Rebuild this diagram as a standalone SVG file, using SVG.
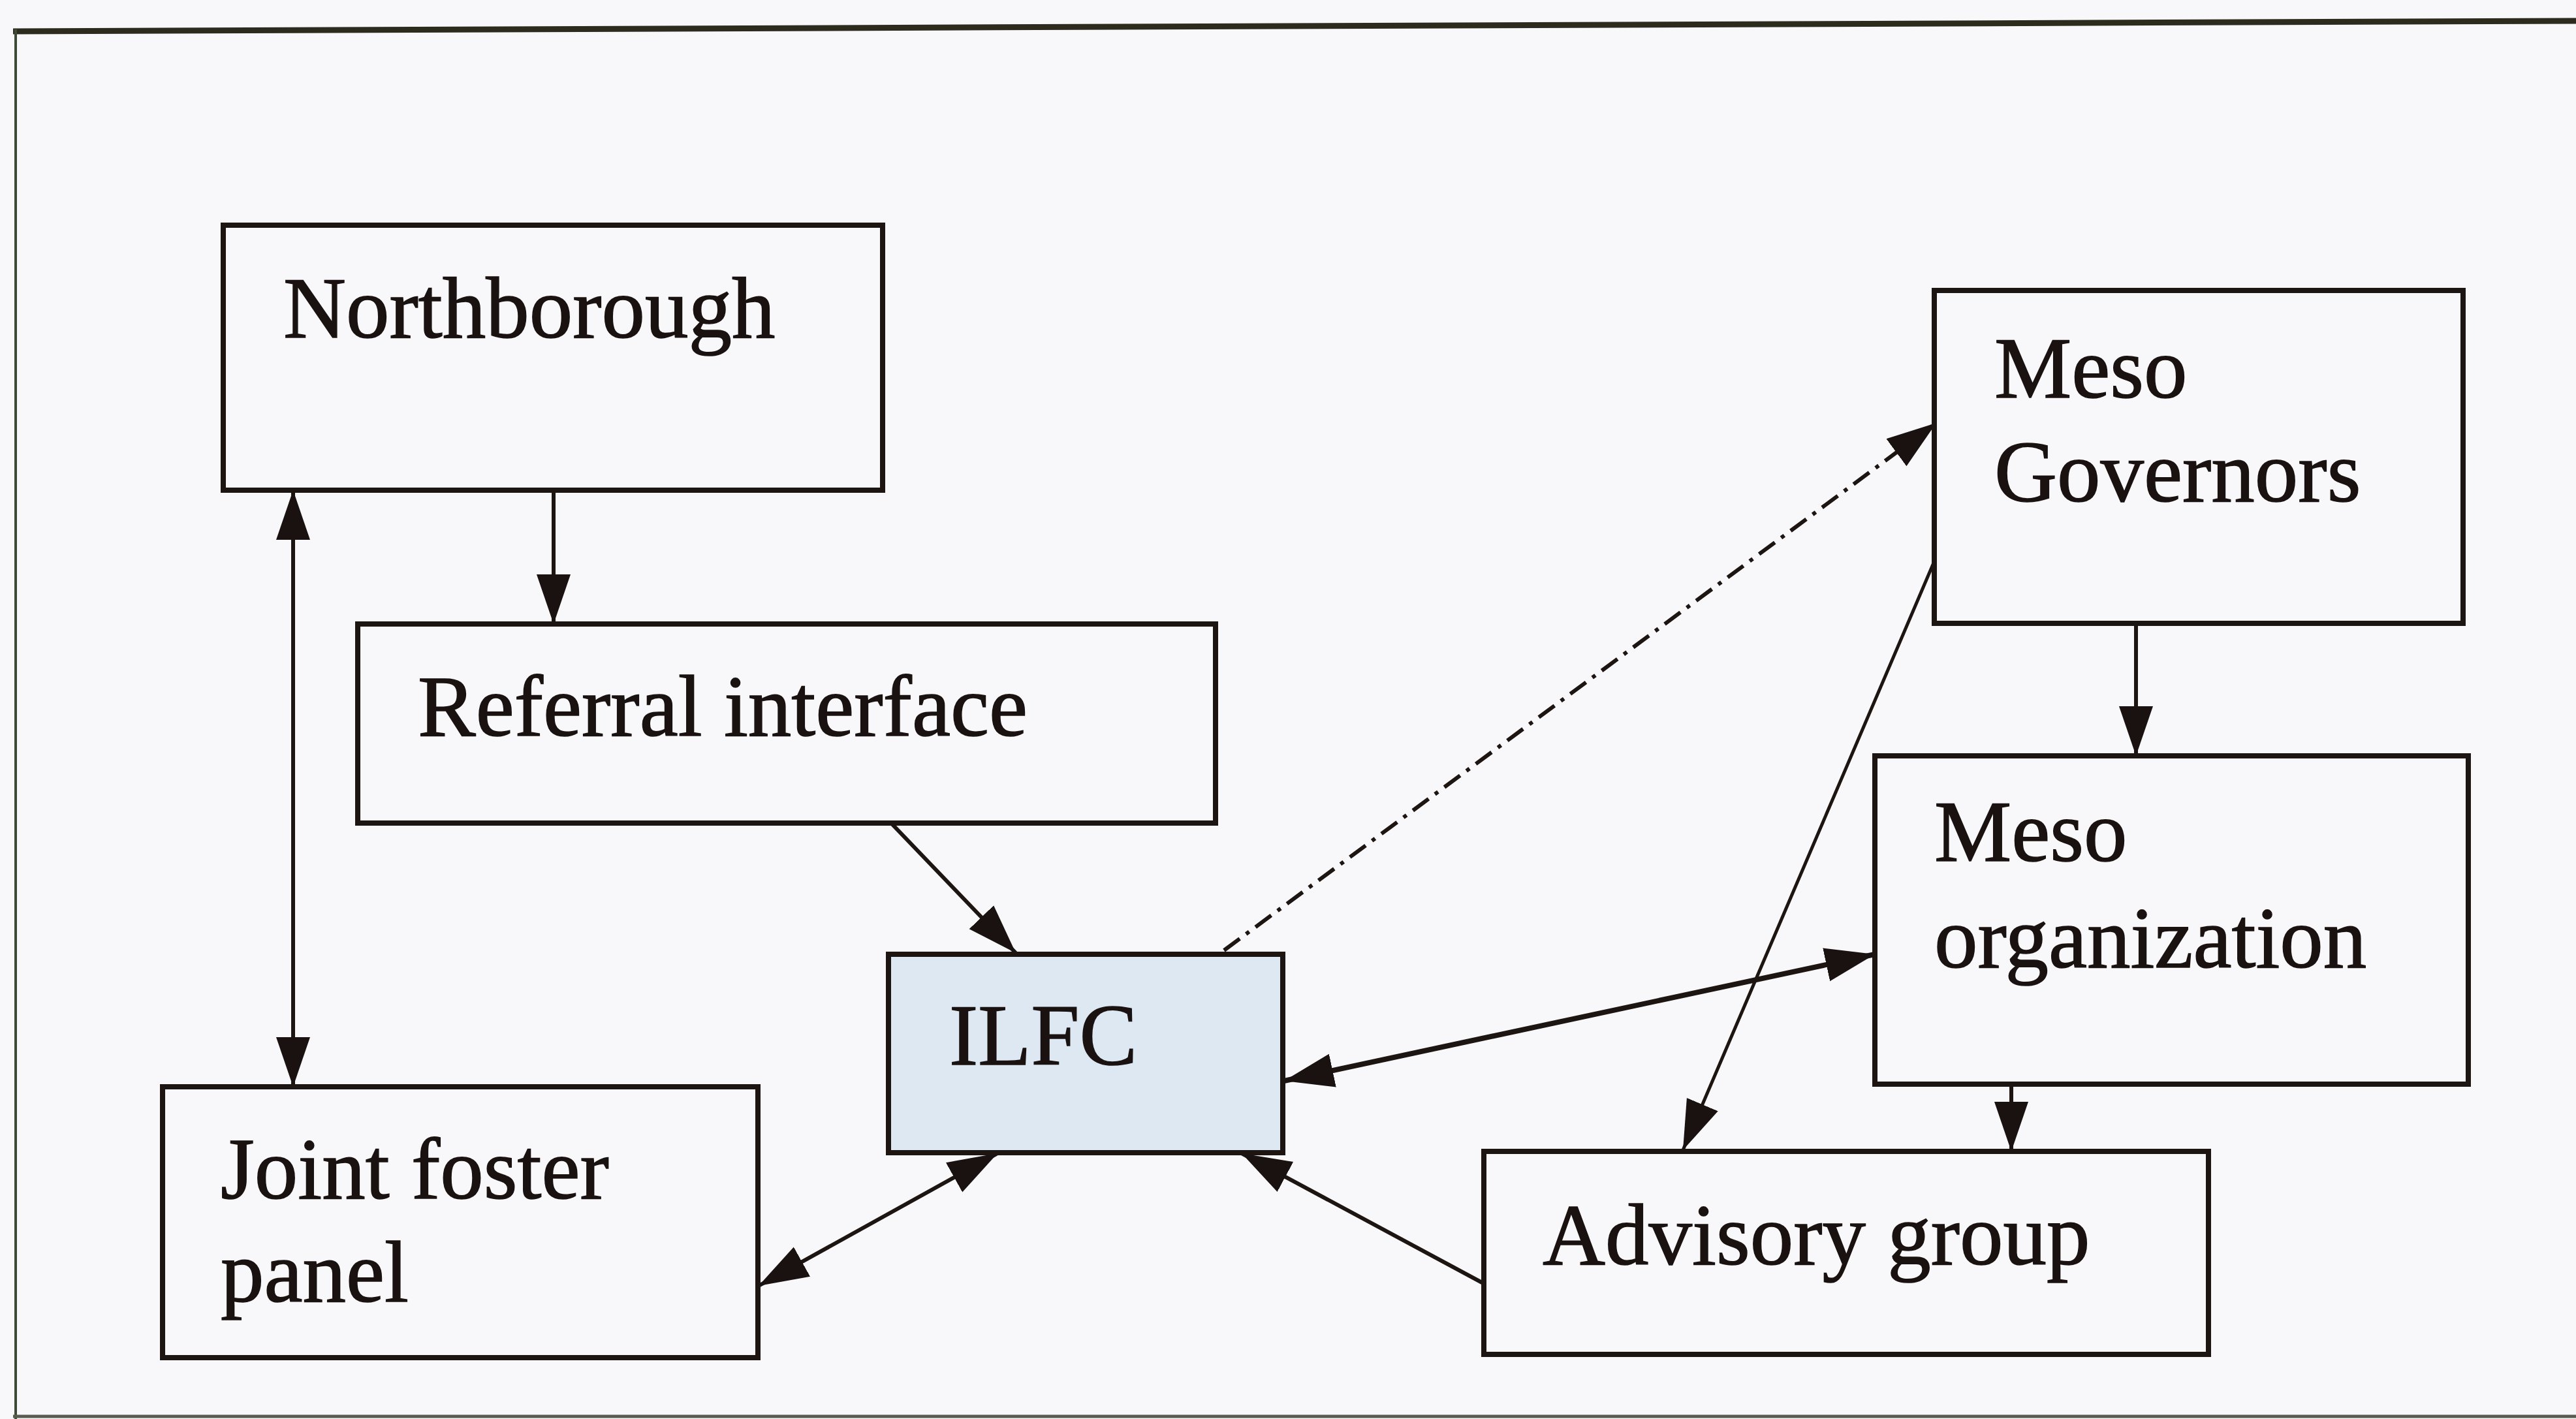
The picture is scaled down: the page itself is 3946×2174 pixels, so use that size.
<svg xmlns="http://www.w3.org/2000/svg" width="3946" height="2174" viewBox="0 0 3946 2174">
<style>
  .box { fill: none; stroke: #1d1512; stroke-width: 8; }
  .ilfc { fill: #dde8f2; stroke: #1d1512; stroke-width: 8; }
  .lbl { font-family: "Liberation Serif", "Times New Roman", serif; font-size: 133px; fill: #1a1210; stroke: #1a1210; stroke-width: 1.5; }
  .conn { stroke: #1d1512; stroke-width: 6; fill: none; }
  .thin { stroke-width: 5; }
  .thick { stroke-width: 8; }
  .dashdot { stroke-width: 6; stroke-dasharray: 30 12 6 12; }
</style>
<defs>
  <marker id="ah" markerUnits="userSpaceOnUse" viewBox="0 0 78 56" markerWidth="78" markerHeight="56" refX="76" refY="28" orient="auto-start-reverse">
    <path d="M0,2 L76,28 L0,54 z" fill="#1a1210"/>
  </marker>
</defs>
<rect x="0" y="0" width="3946" height="2174" fill="#f8f8fb"/>
<g id="frame">
  <line x1="20" y1="48" x2="3946" y2="32" stroke="#2d2a1e" stroke-width="9"/>
  <line x1="24" y1="45" x2="24" y2="2174" stroke="#3e4a35" stroke-width="4"/>
  <line x1="20" y1="2170" x2="3946" y2="2170" stroke="#5a5a50" stroke-width="5"/>
</g>
<g id="connectors">
  <line class="conn" x1="848" y1="751" x2="848" y2="956" marker-end="url(#ah)"/>
  <line class="conn" x1="449" y1="751" x2="449" y2="1665" marker-start="url(#ah)" marker-end="url(#ah)"/>
  <line class="conn" x1="1365" y1="1261" x2="1556" y2="1460" marker-end="url(#ah)"/>
  <line class="conn dashdot" x1="1875" y1="1456" x2="2966" y2="648" marker-end="url(#ah)"/>
  <line class="conn thin" x1="2963" y1="860" x2="2578" y2="1762" marker-end="url(#ah)"/>
  <line class="conn" x1="3272" y1="955" x2="3272" y2="1158" marker-end="url(#ah)"/>
  <line class="conn thick" x1="1967" y1="1656" x2="2872" y2="1462" marker-start="url(#ah)" marker-end="url(#ah)"/>
  <line class="conn" x1="3081" y1="1662" x2="3081" y2="1764" marker-end="url(#ah)"/>
  <line class="conn" x1="2272" y1="1966" x2="1902" y2="1767" marker-end="url(#ah)"/>
  <line class="conn" x1="1528" y1="1767" x2="1162" y2="1970" marker-start="url(#ah)" marker-end="url(#ah)"/>
</g>
<g id="northborough">
  <rect class="box" x="342" y="345" width="1010" height="406"/>
  <text class="lbl" x="434" y="517">Northborough</text>
</g>
<g id="referral-interface">
  <rect class="box" x="548" y="956" width="1314" height="305"/>
  <text class="lbl" x="640" y="1127">Referral interface</text>
</g>
<g id="meso-governors">
  <rect class="box" x="2963" y="445" width="810" height="510"/>
  <text class="lbl" x="3055" y="609">Meso</text>
  <text class="lbl" x="3055" y="768">Governors</text>
</g>
<g id="meso-organization">
  <rect class="box" x="2872" y="1158" width="909" height="503"/>
  <text class="lbl" x="2963" y="1319">Meso</text>
  <text class="lbl" x="2963" y="1482">organization</text>
</g>
<g id="ilfc">
  <rect class="ilfc" x="1361" y="1462" width="604" height="304"/>
  <text class="lbl" x="1454" y="1631">ILFC</text>
</g>
<g id="joint-foster-panel">
  <rect class="box" x="249" y="1665" width="912" height="415"/>
  <text class="lbl" x="338" y="1836">Joint foster</text>
  <text class="lbl" x="338" y="1994">panel</text>
</g>
<g id="advisory-group">
  <rect class="box" x="2273" y="1764" width="1110" height="311"/>
  <text class="lbl" x="2363" y="1937">Advisory group</text>
</g>
</svg>
